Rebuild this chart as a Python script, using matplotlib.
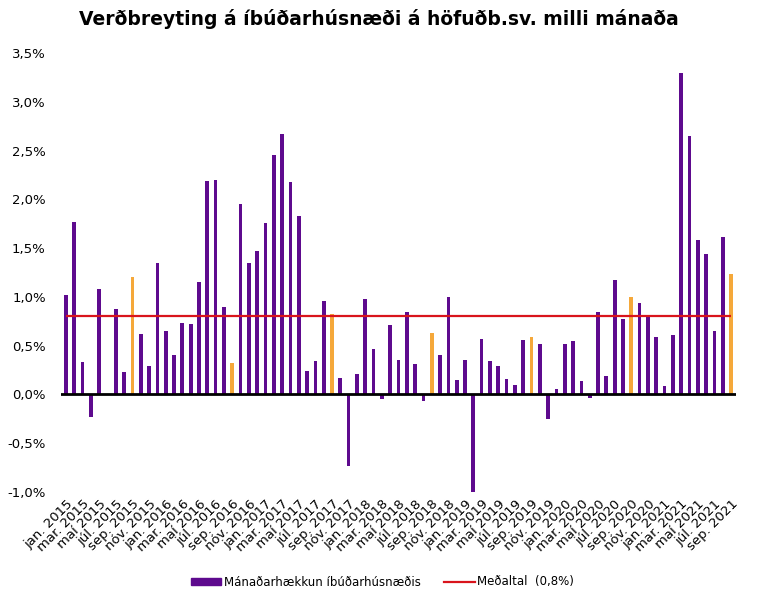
import numpy as np
import matplotlib.pyplot as plt
from matplotlib.patches import Patch
from matplotlib.lines import Line2D

# monthly change, jan 2015 - sep 2021 (%)
y2015 = [1.02, 1.77, 0.33, -0.23, 1.08, 0.00, 0.88, 0.23, 1.20, 0.62, 0.29, 1.35]
y2016 = [0.65, 0.40, 0.73, 0.72, 1.15, 2.19, 2.20, 0.90, 0.32, 1.95, 1.35, 1.47]
y2017 = [1.76, 2.45, 2.67, 2.18, 1.83, 0.24, 0.34, 0.96, 0.82, 0.17, -0.73, 0.21]
y2018 = [0.98, 0.47, -0.05, 0.71, 0.35, 0.84, 0.31, -0.07, 0.63, 0.40, 1.00, 0.15]
y2019 = [0.35, -1.00, 0.57, 0.34, 0.29, 0.16, 0.10, 0.56, 0.59, 0.52, -0.25, 0.06]
y2020 = [0.52, 0.55, 0.14, -0.04, 0.84, 0.19, 1.17, 0.77, 1.00, 0.94, 0.81, 0.59]
y2021 = [0.09, 0.61, 3.30, 2.65, 1.58, 1.44, 0.65, 1.61, 1.23]
mean_val = 0.8

months = ['jan.', 'feb.', 'mar.', 'apr.', 'maí', 'jún.', 'júl.', 'ágú.', 'sep.', 'okt.', 'nóv.', 'des.']
years = [2015, 2016, 2017, 2018, 2019, 2020, 2021]

values = y2015 + y2016 + y2017 + y2018 + y2019 + y2020 + y2021
labels = [f'{m} {y}' for y in years for m in months][:len(values)]

purple = '#5e0a8e'
orange = '#f5a83a'
red = '#d9141c'

colors = [orange if lab.startswith('sep.') else purple for lab in labels]

plt.rcParams['font.family'] = ['DejaVu Sans']
fig = plt.figure(figsize=(7.57, 6.05), dpi=100)
ax = fig.add_axes([61 / 757, 1 - 492 / 605, 675 / 757, (492 - 53) / 605])

x = np.arange(len(values))
ax.bar(x, values, width=0.45, color=colors, zorder=2)
ax.hlines(mean_val, x[0], x[-1], color=red, lw=1.6, zorder=3)
ax.axhline(0, color='black', lw=2, zorder=4)

ax.set_xlim(-0.6, len(values) - 0.4)
ax.set_ylim(-1.0, 3.5)
yt = np.arange(-1.0, 3.51, 0.5)
ax.set_yticks(yt)
ax.set_yticklabels([f'{v:.1f}%'.replace('.', ',') for v in yt], fontsize=9.5)
ax.set_xticks(x[::2])
ax.set_xticklabels(labels[::2], rotation=45, ha='right', rotation_mode='anchor', fontsize=9.5)
ax.tick_params(axis='y', length=0, pad=11)
ax.tick_params(axis='x', length=0, pad=4)
for s in ax.spines.values():
    s.set_visible(False)

fig.suptitle('Verðbreyting á íbúðarhúsnæði á höfuðb.sv. milli mánaða',
             x=0.5, y=0.985, fontsize=13.5, fontweight='bold')

handles = [Patch(color=purple), Line2D([0], [0], color=red, lw=1.6)]
fig.legend(handles, ['Mánaðarhækkun íbúðarhúsnæðis', 'Meðaltal  (0,8%)'],
           loc='center', bbox_to_anchor=(0.505, 1 - 582 / 605), ncol=2, frameon=False,
           fontsize=8.5, handlelength=2.6, handleheight=0.5, columnspacing=2.0, handletextpad=0.2)

fig.savefig('out.png', dpi=100)
